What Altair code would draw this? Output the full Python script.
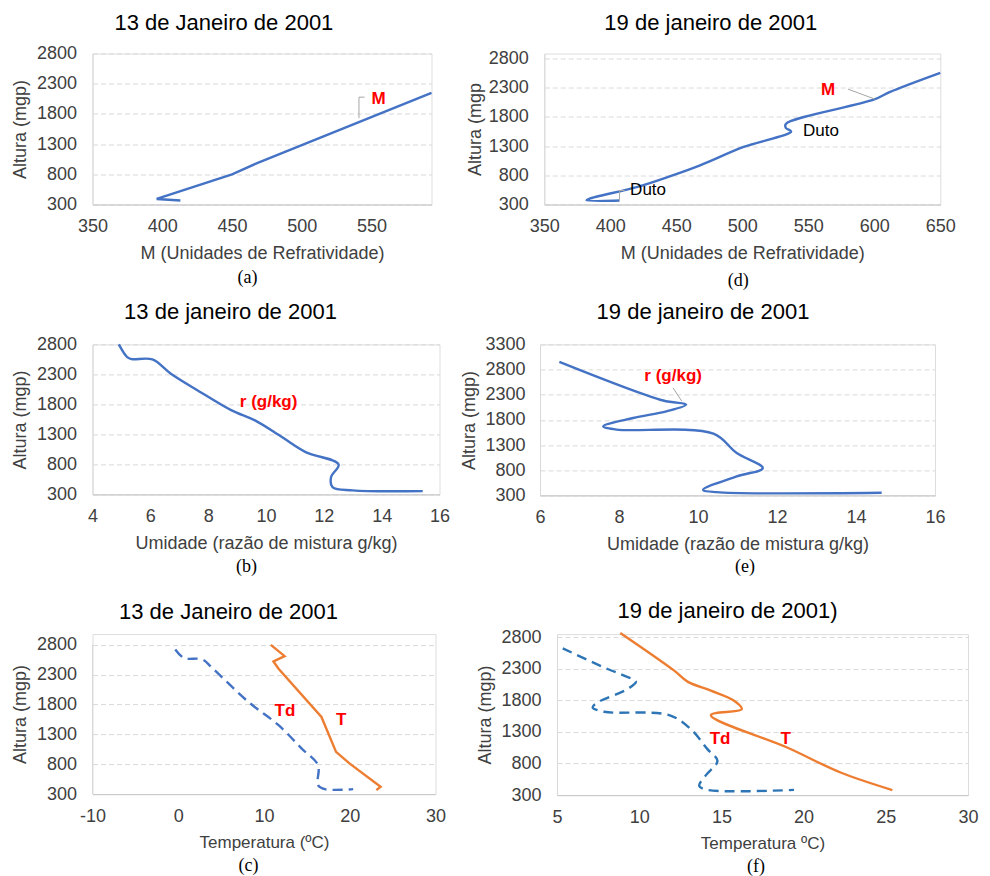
import altair as alt
import pandas as pd

FONT = "Liberation Sans"
SERIF = "Liberation Serif"
BLUE = "#4472C4"
BLUE2 = "#2E75B6"
ORANGE = "#ED7D31"
RED = "#FF0000"
TXT = "#404040"
GRID = "#D9D9D9"

# ---------------- data ----------------
# (a) 13 Jan - M profile
A_M = [413, 396, 450, 468, 593]
A_H = [366, 392, 800, 985, 2149]
# (d) 19 Jan - M profile
D_M = [407, 382, 384, 420, 445, 468, 501, 537, 533, 533, 600, 612, 650]
D_H = [369, 372, 398, 597, 781, 970, 1285, 1550, 1610, 1680, 2099, 2230, 2556]
# (b) 13 Jan - mixing ratio
B_R = [4.91, 5.2, 5.35, 6.07, 6.71, 7.64, 8.81, 9.62, 10.55, 11.37, 12.51, 12.25, 12.3, 13.0, 15.42]
B_H = [2800, 2588, 2555, 2550, 2312, 2033, 1700, 1533, 1255, 1005, 800, 588, 422, 367, 355]
# (e) 19 Jan - mixing ratio
E_R = [6.49, 9.12, 9.70, 9.2, 8.36, 7.60, 7.94, 10.39, 10.98, 11.64, 10.98, 10.13, 10.47, 14.65]
E_H = [2954, 2185, 2105, 1971, 1838, 1673, 1607, 1527, 1142, 843, 678, 412, 365, 352]
# (c) 13 Jan - temperature and dew point
C_T = [10.8, 12.4, 11.1, 11.7, 16.7, 18.4, 20.0, 23.6, 23.1]
C_TH = [2800, 2611, 2522, 2400, 1592, 1007, 811, 422, 367]
C_TD = [-0.35, 0.69, 2.81, 3.97, 8.2, 11.7, 14.4, 16.3, 16.3, 17.1, 20.4]
C_TDH = [2722, 2578, 2556, 2411, 1842, 1454, 1062, 785, 450, 383, 383]
# (f) 19 Jan - temperature and dew point
F_T = [8.85, 12.13, 12.94, 14.36, 15.77, 16.24, 14.36, 19.0, 22.25, 25.4]
F_TH = [2868, 2271, 2097, 1954, 1795, 1662, 1567, 1054, 658, 380]
F_TD = [5.35, 8.08, 9.09, 9.8, 9.29, 7.47, 7.17, 7.87, 11.82, 13.14, 14.15, 14.76, 14.05, 13.65, 14.15, 19.42]
F_TDH = [2625, 2297, 2192, 2097, 1980, 1768, 1689, 1620, 1567, 1345, 1028, 843, 613, 445, 382, 382]

Y_TICKS = [300, 800, 1300, 1800, 2300, 2800]
Y_TICKS_E = [300, 800, 1300, 1800, 2300, 2800, 3300]
PLAIN = "'' + datum.value"


def ldf(xs, ys):
    return pd.DataFrame({"x": xs, "y": ys, "i": list(range(len(xs)))})


def enc(xdom, xticks, xtitle, ydom, yticks, ytitle, lpy=16, tpy=7, xts=18, ydomain=True):
    x = alt.X("x:Q", scale=alt.Scale(domain=xdom, nice=False, zero=False),
              axis=alt.Axis(values=xticks, title=xtitle, grid=False, ticks=False,
                            domainColor="#C8C8C8", labelFontSize=18, labelFont=FONT,
                            labelColor=TXT, labelPadding=13, labelFlush=False,
                            labelOverlap=False, labelExpr=PLAIN, titleFont=FONT,
                            titleFontSize=xts, titleFontWeight="normal",
                            titleColor=TXT, titlePadding=9))
    y = alt.Y("y:Q", scale=alt.Scale(domain=ydom, nice=False, zero=False),
              axis=alt.Axis(values=yticks, title=ytitle, grid=True, gridDash=[5, 3],
                            gridColor=GRID, ticks=False, domain=ydomain, domainColor=GRID,
                            labelFontSize=18, labelFont=FONT, labelColor=TXT,
                            labelPadding=lpy, labelFlush=False, labelOverlap=False,
                            labelExpr=PLAIN, titleFont=FONT, titleFontSize=18,
                            titleFontWeight="normal", titleColor=TXT, titlePadding=tpy))
    return x, y


def line(df, x, y, color, dash=None, interp="linear"):
    kw = dict(color=color, strokeWidth=2.4, interpolate=interp)
    if dash:
        kw["strokeDash"] = dash
    return alt.Chart(df).mark_line(**kw).encode(x=x, y=y, order="i:Q")


def leader(xs, ys, x, y):
    return alt.Chart(ldf(xs, ys)).mark_line(color="#A6A6A6", strokeWidth=1).encode(
        x=x, y=y, order="i:Q")


def label(xv, yv, text, x, y, color=RED, bold=True, align="center"):
    df = pd.DataFrame({"x": [xv], "y": [yv], "t": [text]})
    return alt.Chart(df).mark_text(font=FONT, fontSize=17,
                                   fontWeight="bold" if bold else "normal",
                                   color=color, align=align, baseline="middle").encode(
        x=x, y=y, text="t:N")


def sub(text, px, py):
    df = pd.DataFrame({"t": [text]})
    return alt.Chart(df).mark_text(font=SERIF, fontSize=18, color="#000",
                                   baseline="middle", align="center").encode(
        x=alt.value(px), y=alt.value(py), text="t:N")


def ttl(text, offset):
    return alt.TitleParams(text=text, font=FONT, fontSize=22, fontWeight="normal",
                           color="#000000", offset=offset, frame="bounds",
                           anchor="middle")


# (a)
ax, ay = enc([350, 593], [350, 400, 450, 500, 550], "M (Unidades de Refratividade)",
             [300, 2800], Y_TICKS, "Altura (mgp)")
wa, ha = 339, 151
pa = alt.layer(
    line(ldf(A_M, A_H), ax, ay, BLUE),
    leader([545, 541, 541], [2077, 2077, 1729], ax, ay),
    label(555, 2044, "M", ax, ay),
    sub("(a)", 155, ha + 73),
).properties(width=wa, height=ha, title=ttl("13 de Janeiro de 2001", 9.1))

# (d)
dx, dy = enc([350, 650], [350, 400, 450, 500, 550, 600, 650], "M (Unidades de Refratividade)",
             [300, 2886], Y_TICKS, "Altura (mgp", 16, 4)
wd, hd = 396, 151
pd_ = alt.layer(
    line(ldf(D_M, D_H), dx, dy, BLUE, interp="catmull-rom"),
    leader([580, 600.6], [2276, 2104], dx, dy),
    leader([407, 407, 411], [369, 540, 540], dx, dy),
    label(565, 2259, "M", dx, dy),
    label(415, 540, "Duto", dx, dy, color="#000", bold=False, align="left"),
    label(546, 1554, "Duto", dx, dy, color="#000", bold=False, align="left"),
    sub("(d)", 194, hd + 76),
).properties(width=wd, height=hd, title=ttl("19 de janeiro de 2001", 14.4))

# (b)
bx, by = enc([4, 16], [4, 6, 8, 10, 12, 14, 16], "Umidade (razão de mistura g/kg)",
             [300, 2800], Y_TICKS, "Altura (mgp)")
wb, hb = 347, 150
pb = alt.layer(
    line(ldf(B_R, B_H), bx, by, BLUE, interp="catmull-rom"),
    label(10.09, 1838, "r (g/kg)", bx, by),
    sub("(b)", 154, hb + 73),
).properties(width=wb, height=hb, title=ttl("13 de janeiro de 2001", 11.8))

# (e)
ex, ey = enc([6, 16], [6, 8, 10, 12, 14, 16], "Umidade (razão de mistura g/kg)",
             [300, 3300], Y_TICKS_E, "Altura (mgp)", 15, 6)
we, he = 395, 151
pe = alt.layer(
    line(ldf(E_R, E_H), ex, ey, BLUE, interp="catmull-rom"),
    leader([9.37, 9.59], [2435, 2171], ex, ey),
    label(9.37, 2669, "r (g/kg)", ex, ey),
    sub("(e)", 205, he + 72),
).properties(width=we, height=he, title=ttl("19 de janeiro de 2001", 11.8))

# (c)
cx, cy = enc([-10, 30], [-10, 0, 10, 20, 30], "Temperatura (ºC)",
             [300, 2980], Y_TICKS, "Altura (mgp)", xts=17, ydomain=False)
wc, hc = 343, 160
C_AXIS = pd.DataFrame({"x": [-10], "y": [300], "y2": [2800]})
pc = alt.layer(
    alt.Chart(C_AXIS).mark_rule(color=GRID, strokeWidth=1).encode(
        x=cx, y=cy, y2=alt.Y2("y2:Q")),
    line(ldf(C_TD, C_TDH), cx, cy, BLUE, dash=[10, 6], interp="catmull-rom"),
    line(ldf(C_T, C_TH), cx, cy, ORANGE),
    label(12.45, 1691, "Td", cx, cy),
    label(19.0, 1536, "T", cx, cy),
    sub("(c)", 156, hc + 72),
).properties(width=wc, height=hc, title=ttl("13 de Janeiro de 2001", 10.2))

# (f)
fx, fy = enc([5, 30], [5, 10, 15, 20, 25, 30], "Temperatura ºC)",
             [300, 2850], Y_TICKS, "Altura (mgp)", 16, 6, xts=17)
wf, hf = 411, 161
pf = alt.layer(
    line(ldf(F_TD, F_TDH), fx, fy, BLUE2, dash=[10, 6], interp="catmull-rom"),
    line(ldf(F_T, F_TH), fx, fy, ORANGE, interp="catmull-rom"),
    label(14.92, 1186, "Td", fx, fy),
    label(18.91, 1186, "T", fx, fy),
    sub("(f)", 199, hf + 72),
).properties(width=wf, height=hf, title=ttl("19 de janeiro de 2001)", 5.1))

row1 = alt.hconcat(pa, pd_, spacing=27.8)
row2 = alt.hconcat(pb, pe, spacing=9.5)
row3 = alt.hconcat(pc, pf, spacing=29.5)

chart = alt.vconcat(alt.vconcat(row1, row2, spacing=8.9), row3, spacing=21.6).properties(
    padding={"left": 10.5, "top": 11.5, "right": 5, "bottom": 0}
).configure_view(stroke=None).configure(background="white")

chart.save("out.html", embed_options={"renderer": "svg", "actions": False})
